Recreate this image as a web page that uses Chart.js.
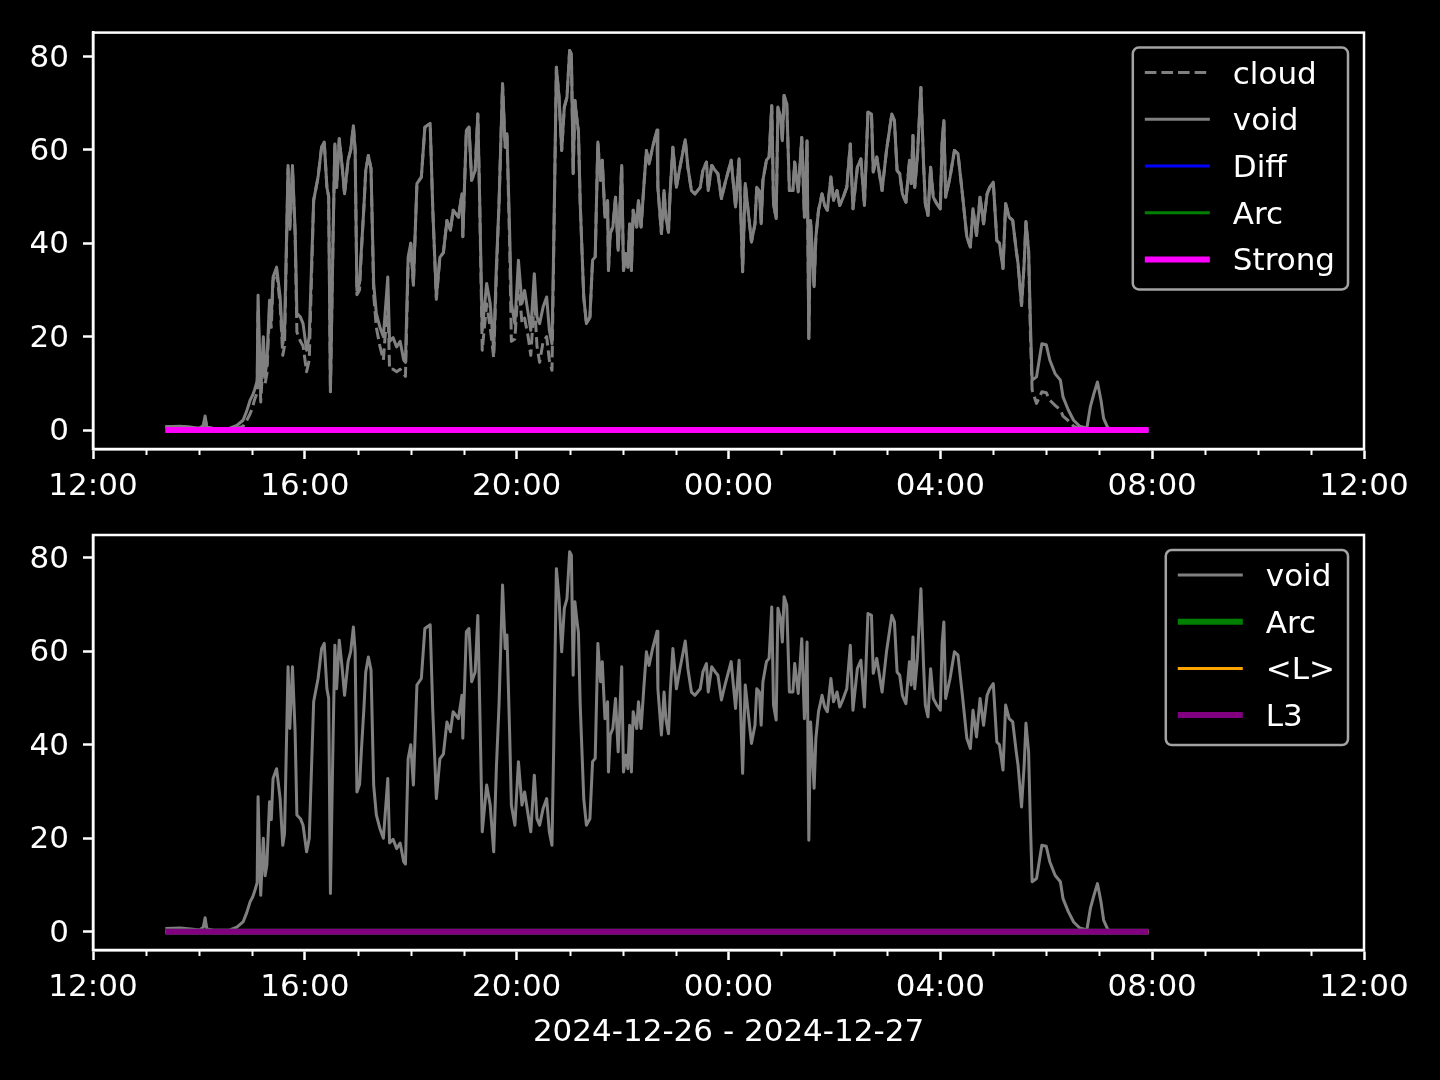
<!DOCTYPE html>
<html>
<head>
<meta charset="utf-8">
<script src="https://cdn.jsdelivr.net/npm/chart.js@4.4.1/dist/chart.umd.min.js"></script>
<style>
  html, body { margin: 0; padding: 0; background: #000; }
  #wrap { position: relative; width: 1440px; height: 1080px; background: #000; }
  #top { position: absolute; left: 0; top: 0; }
  #bottom { position: absolute; left: 0; top: 500px; }
</style>
</head>
<body>
<div id="wrap">
  <canvas id="top" width="1440" height="500"></canvas>
  <canvas id="bottom" width="1440" height="580"></canvas>
</div>
<script>
// ========== DATA ==========
const sampleTimes = [
  "13:22","13:39","13:56","14:01","14:05","14:07","14:09","14:18","14:35","14:43",
  "14:50","14:54","14:58","15:01","15:03","15:06","15:07","15:10","15:13","15:15",
  "15:17","15:20","15:22","15:24","15:28","15:32","15:35","15:37","15:41","15:43",
  "15:46","15:49","15:51","15:55","15:58","16:02","16:05","16:10","16:15","16:19",
  "16:22","16:25","16:27","16:29","16:32","16:34","16:36","16:39","16:42","16:45",
  "16:49","16:52","16:55","16:57","16:59","17:02","17:04","17:07","17:09","17:12",
  "17:15","17:18","17:21","17:25","17:29","17:34","17:36","17:40","17:44","17:48",
  "17:52","17:54","17:57","18:00","18:03","18:07","18:12","18:16","18:22","18:25",
  "18:29","18:33","18:37","18:41","18:45","18:48","18:54","18:58","18:59","19:03",
  "19:06","19:09","19:13","19:16","19:18","19:21","19:26","19:30","19:34","19:37",
  "19:40","19:44","19:47","19:49","19:52","19:54","19:58","20:02","20:06","20:09",
  "20:13","20:16","20:20","20:23","20:26","20:30","20:34","20:37","20:40","20:42",
  "20:45","20:48","20:51","20:54","20:57","21:00","21:02","21:04","21:06","21:08",
  "21:10","21:12","21:16","21:19","21:23","21:26","21:29","21:32","21:35","21:37",
  "21:40","21:43","21:44","21:46","21:49","21:52","21:55","21:59","22:01","22:04",
  "22:06","22:08","22:10","22:12","22:16","22:18","22:21","22:24","22:27","22:30",
  "22:34","22:39","22:40","22:44","22:47","22:49","22:52","22:54","22:57","23:01",
  "23:05","23:11","23:14","23:18","23:22","23:28","23:31","23:35","23:37","23:41",
  "23:45","23:48","23:52","23:56","00:03","00:08","00:12","00:16","00:19","00:22",
  "00:26","00:30","00:32","00:35","00:37","00:39","00:43","00:46","00:49","00:51",
  "00:54","00:56","00:59","01:01","01:03","01:06","01:09","01:13","01:15","01:19",
  "01:23","01:26","01:29","01:31","01:33","01:37","01:39","01:42","01:46","01:49",
  "01:52","01:56","01:59","02:03","02:06","02:10","02:14","02:18","02:21","02:26",
  "02:30","02:34","02:38","02:42","02:44","02:48","02:54","02:59","03:05","03:08",
  "03:11","03:14","03:17","03:21","03:25","03:27","03:29","03:31","03:34","03:38",
  "03:41","03:43","03:46","03:49","03:52","03:56","04:00","04:02","04:04","04:06",
  "04:11","04:16","04:20","04:25","04:30","04:34","04:37","04:41","04:45","04:49",
  "04:53","04:56","05:00","05:04","05:07","05:11","05:14","05:18","05:22","05:26",
  "05:28","05:32","05:35","05:37","05:40","05:42","05:44","05:49","05:55","06:00",
  "06:04","06:10","06:16","06:19","06:25","06:31","06:38","06:46","06:50","06:54",
  "06:58","07:02","07:05","07:09","07:12","07:56"
];

const voidValues = [
  0.7,0.8,0.5,0.4,1.0,3.0,0.6,0.3,0.4,1.0,
  2.1,4.0,6.4,7.5,8.6,10.5,28.9,7.8,20.0,12.0,
  14.3,27.8,24.0,32.8,34.9,28.5,18.5,21.0,56.7,43.5,
  56.7,42.8,25.0,24.2,22.8,17.1,20.0,49.2,54.2,60.6,
  61.7,52.0,50.0,8.2,41.4,61.3,52.0,62.4,57.0,50.6,
  57.8,60.0,65.2,60.0,29.9,31.5,38.5,48.0,55.6,58.8,
  56.0,31.4,25.0,22.1,20.0,32.8,19.0,19.8,17.8,19.0,
  15.0,14.5,37.0,40.0,31.4,52.8,54.2,64.9,65.7,47.1,
  28.5,37.0,38.0,44.9,42.8,47.1,45.6,50.6,41.4,64.2,
  64.9,53.5,55.6,67.7,50.0,21.4,31.4,27.1,17.1,35.0,
  48.5,74.2,60.6,63.5,42.8,27.1,22.8,36.4,27.1,29.9,
  25.0,21.4,33.5,24.2,22.8,26.4,28.5,21.4,18.5,40.0,
  77.7,71.3,59.9,69.2,71.3,81.3,80.6,54.9,70.6,67.0,
  64.0,48.5,28.5,22.8,24.2,36.4,37.1,61.7,53.5,57.8,
  45.6,49.2,34.2,42.1,43.5,49.9,38.5,56.7,34.2,37.8,
  34.9,44.2,34.2,47.1,43.5,49.2,43.5,52.0,59.9,57.0,
  60.6,64.3,52.0,42.1,51.3,45.6,42.4,51.3,60.6,52.0,
  56.3,62.2,56.3,51.3,50.6,52.0,55.6,57.4,51.3,56.7,
  55.6,54.9,49.6,52.8,57.8,47.8,58.1,33.9,52.8,47.4,
  40.3,44.2,52.0,51.3,44.2,53.5,57.8,58.5,69.5,48.5,
  45.3,69.2,67.0,62.0,71.7,69.9,51.3,51.3,57.4,51.0,
  62.7,45.6,62.0,19.6,44.9,30.7,41.4,47.1,50.6,48.1,
  47.1,54.2,49.2,51.3,48.1,49.9,52.0,61.3,47.4,56.3,
  58.1,48.1,68.1,67.7,55.3,58.5,51.3,59.9,67.7,66.3,
  55.6,54.9,50.6,48.8,57.8,52.8,63.1,52.0,58.5,73.4,
  57.0,48.5,46.0,56.3,49.9,48.5,47.4,61.7,66.3,49.9,
  54.2,59.9,59.2,50.6,41.4,39.2,47.4,41.7,49.9,44.2,
  50.6,52.0,53.1,40.6,40.0,34.6,48.5,45.6,44.9,38.5,
  35.7,26.7,35.7,44.6,38.5,23.5,10.7,11.4,18.5,18.3,
  15.0,12.1,10.7,7.1,4.3,2.1,0.8,0.4,5.0,7.8,
  10.3,6.4,2.5,0.8,0.0,0.0
];

const cloudValues = [
  0.7,0.8,0.5,0.4,0.8,2.5,0.5,0.3,0.2,0.4,
  0.8,2.0,3.5,5.0,6.5,8.0,26.0,6.0,16.0,10.0,
  12.0,26.0,22.0,32.0,34.0,27.0,16.0,18.0,56.0,43.0,
  56.0,42.0,21.0,19.0,18.0,12.5,15.0,49.2,54.2,60.6,
  61.7,52.0,50.0,8.2,41.4,61.3,52.0,62.4,57.0,50.6,
  57.8,60.0,65.2,60.0,29.0,30.0,38.0,48.0,55.6,58.8,
  56.0,29.0,22.0,18.0,15.0,28.0,13.0,13.0,12.5,13.0,
  12.0,11.5,35.0,40.0,31.0,52.8,54.2,64.9,65.7,47.1,
  28.0,37.0,38.0,44.9,42.8,47.1,45.6,50.6,41.4,64.2,
  64.9,53.5,55.6,67.7,50.0,17.1,27.0,22.0,15.5,33.0,
  48.5,74.2,60.6,63.5,40.0,19.0,19.5,32.0,23.0,24.0,
  20.0,16.0,28.0,18.0,14.5,19.0,20.0,15.0,12.8,38.0,
  77.7,71.3,59.9,69.2,71.3,81.3,80.6,54.9,70.6,67.0,
  64.0,48.5,28.5,22.8,24.2,36.4,37.1,61.7,53.5,57.8,
  45.6,49.2,34.2,42.1,43.5,49.9,38.5,56.7,34.2,37.8,
  34.9,44.2,34.2,47.1,43.5,49.2,43.5,52.0,59.9,57.0,
  60.6,64.3,52.0,42.1,51.3,45.6,42.4,51.3,60.6,52.0,
  56.3,62.2,56.3,51.3,50.6,52.0,55.6,57.4,51.3,56.7,
  55.6,54.9,49.6,52.8,57.8,47.8,58.1,33.9,52.8,47.4,
  40.3,44.2,52.0,51.3,44.2,53.5,57.8,58.5,69.5,48.5,
  45.3,69.2,67.0,62.0,71.7,69.9,51.3,51.3,57.4,51.0,
  62.7,45.6,62.0,19.6,44.9,30.7,41.4,47.1,50.6,48.1,
  47.1,54.2,49.2,51.3,48.1,49.9,52.0,61.3,47.4,56.3,
  58.1,48.1,68.1,67.7,55.3,58.5,51.3,59.9,67.7,66.3,
  55.6,54.9,50.6,48.8,57.8,52.8,63.1,52.0,58.5,73.4,
  57.0,48.5,46.0,56.3,49.9,48.5,47.4,61.7,66.3,49.9,
  54.2,59.9,59.2,50.6,41.4,39.2,47.4,41.7,49.9,44.2,
  50.6,52.0,53.1,40.6,40.0,34.6,48.5,45.6,44.9,38.5,
  35.7,26.7,35.7,44.6,38.5,21.0,8.6,5.7,8.2,8.0,
  6.4,5.3,4.3,3.0,2.0,0.8,0.3,0.1,0.1,0.1,
  0.1,0.1,0.1,0.1,0.0,0.0
];

// Diff, Arc, Strong, <L>, L3 sit on zero for the whole run
const flatTimes = ["13:22", "07:56"];
const flatValues = [0, 0];

// axis ticks (hours after 12:00 on 2024-12-26)
const xTickHours = [0,1,2,3,4,5,6,7,8,9,10,11,12,13,14,15,16,17,18,19,20,21,22,23,24];
const yTickValues = [0, 20, 40, 60, 80];
const xAxisTitle = "2024-12-26 - 2024-12-27";

// ========== HELPERS ==========
function toHours(t) {
  const [h, m] = t.split(":").map(Number);
  return ((h - 12 + 24) % 24) + m / 60;
}

function toPoints(times, values) {
  return times.map((t, i) => ({ x: toHours(t), y: values[i] }));
}

function hourLabel(h) {
  return String((12 + h) % 24).padStart(2, "0") + ":00";
}

const WHITE = "#ffffff";
const FONT = "'DejaVu Sans', sans-serif";

Chart.defaults.font.family = FONT;
Chart.defaults.font.size = 31;
Chart.defaults.color = WHITE;

// ========== PLUGINS ==========
// full box frame + short minor ticks on the time axis
const frameAndMinor = {
  id: "frameAndMinor",
  afterDraw(chart) {
    const { ctx, chartArea } = chart;
    const xs = chart.scales.x;
    ctx.save();
    ctx.strokeStyle = WHITE;
    ctx.lineWidth = 2.5;
    ctx.strokeRect(chartArea.left, chartArea.top,
      chartArea.right - chartArea.left, chartArea.bottom - chartArea.top);
    ctx.lineWidth = 2;
    xs.ticks.forEach(t => {
      if (t.major) return;
      const px = Math.round(xs.getPixelForValue(t.value)) + 0.5;
      ctx.beginPath();
      ctx.moveTo(px, chartArea.bottom);
      ctx.lineTo(px, chartArea.bottom + 6);
      ctx.stroke();
    });
    ctx.restore();
  }
};

// matplotlib-like framed legend in the upper right corner
const framedLegend = {
  id: "framedLegend",
  afterDraw(chart) {
    const { ctx, chartArea } = chart;
    const sets = chart.data.datasets;
    ctx.save();
    ctx.font = "31px " + FONT;
    const textW = Math.max(...sets.map(d => ctx.measureText(d.label).width));
    const rowH = 46.7;
    const w = 12 + 65 + 24 + textW + 12;
    const h = 25 + (sets.length - 1) * rowH + 30;
    const right = chartArea.right - 16;
    const top = chartArea.top + 15;
    const left = right - w;

    ctx.beginPath();
    ctx.roundRect(left, top, w, h, 6);
    ctx.fillStyle = "rgba(0,0,0,0.8)";
    ctx.fill();
    ctx.lineWidth = 2.5;
    ctx.strokeStyle = "#a3a3a3";
    ctx.stroke();

    sets.forEach((d, i) => {
      const y = top + 25 + i * rowH;
      ctx.beginPath();
      ctx.setLineDash(d.borderDash || []);
      ctx.strokeStyle = d.borderColor;
      ctx.lineWidth = d.borderWidth;
      ctx.moveTo(left + 12, y);
      ctx.lineTo(left + 77, y);
      ctx.stroke();
      ctx.setLineDash([]);
      ctx.fillStyle = WHITE;
      ctx.textBaseline = "middle";
      ctx.textAlign = "left";
      ctx.fillText(d.label, left + 100, y + 3);
    });
    ctx.restore();
  }
};

// ========== CHART BUILDER ==========
function lineSet(label, points, color, width, dash) {
  return {
    label: label,
    data: points,
    borderColor: color,
    backgroundColor: color,
    borderWidth: width,
    borderDash: dash || [],
    borderJoinStyle: "round",
    pointRadius: 0,
    tension: 0,
    fill: false
  };
}

function makeChart(canvasId, datasets, opts) {
  // later datasets are drawn on top, like matplotlib
  datasets.forEach((d, i) => { d.order = datasets.length - i; });

  return new Chart(document.getElementById(canvasId), {
    type: "line",
    data: { datasets: datasets },
    options: {
      responsive: false,
      animation: false,
      parsing: false,
      layout: { padding: { left: 0, right: 76, top: opts.padTop, bottom: 0 } },
      plugins: { legend: { display: false }, tooltip: { enabled: false } },
      scales: {
        x: {
          type: "linear",
          min: 0,
          max: 24,
          afterBuildTicks: s => { s.ticks = xTickHours.map(h => ({ value: h, major: h % 4 === 0 })); },
          afterFit: s => { s.height = opts.xHeight; },
          grid: {
            drawOnChartArea: false,
            tickLength: 10,
            tickWidth: 2.5,
            tickColor: c => (c.tick && c.tick.major) ? WHITE : "rgba(0,0,0,0)"
          },
          border: { color: WHITE, width: 2.5 },
          ticks: {
            autoSkip: false,
            maxRotation: 0,
            padding: 9,
            color: WHITE,
            callback: v => (v % 4 === 0 ? hourLabel(v) : "")
          },
          title: opts.title
            ? { display: true, text: xAxisTitle, color: WHITE, font: { size: 31 }, padding: { top: 0, bottom: 28 } }
            : { display: false }
        },
        y: {
          min: opts.yMin,
          max: opts.yMax,
          afterBuildTicks: s => { s.ticks = yTickValues.map(v => ({ value: v })); },
          afterFit: s => { s.width = 93; },
          grid: { drawOnChartArea: false, tickLength: 10, tickWidth: 2.5, tickColor: WHITE },
          border: { color: WHITE, width: 2.5 },
          ticks: { padding: 14, labelOffset: 2, color: WHITE }
        }
      }
    },
    plugins: [frameAndMinor, framedLegend]
  });
}

// ========== TOP PANEL ==========
makeChart("top", [
  lineSet("cloud", toPoints(sampleTimes, cloudValues), "#808080", 3, [11.6, 5]),
  lineSet("void", toPoints(sampleTimes, voidValues), "#808080", 3),
  lineSet("Diff", toPoints(flatTimes, flatValues), "#0000ff", 3),
  lineSet("Arc", toPoints(flatTimes, flatValues), "#008000", 3),
  lineSet("Strong", toPoints(flatTimes, flatValues), "#ff00ff", 6)
], { padTop: 32, xHeight: 51, yMin: -4.06, yMax: 85.15, title: false });

// ========== BOTTOM PANEL ==========
makeChart("bottom", [
  lineSet("void", toPoints(sampleTimes, voidValues), "#808080", 3),
  lineSet("Arc", toPoints(flatTimes, flatValues), "#008000", 6),
  lineSet("<L>", toPoints(flatTimes, flatValues), "#ffa500", 3),
  lineSet("L3", toPoints(flatTimes, flatValues), "#800080", 6)
], { padTop: 35, xHeight: 130, yMin: -3.9, yMax: 84.9, title: true });
</script>
</body>
</html>
